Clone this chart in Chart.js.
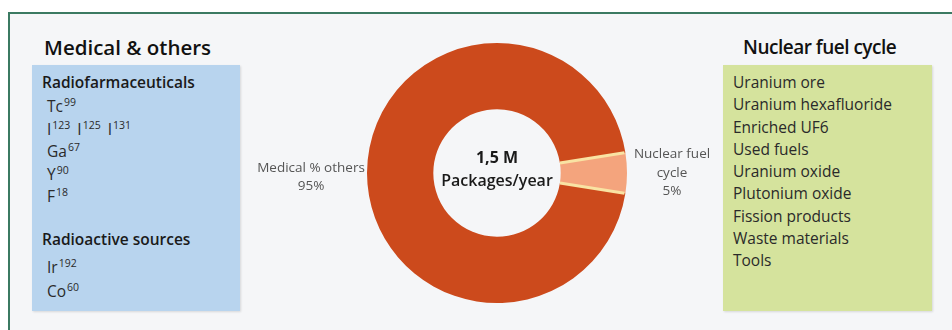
<!DOCTYPE html>
<html>
<head>
<meta charset="utf-8">
<script src="https://cdn.jsdelivr.net/npm/chart.js@4.4.0/dist/chart.umd.min.js"></script>
<style>
  html, body { margin:0; padding:0; background:#ffffff; }
  body { width:952px; height:330px; position:relative; overflow:hidden; font-family:"Open Sans", "Noto Sans", sans-serif; }
  #frame { position:absolute; left:8px; top:12px; width:944px; height:318px; border-top:2px solid #3b7a62; border-left:2px solid #3b7a62; background:#f5f6f8; box-sizing:border-box; }
  .box { position:absolute; top:65px; height:246px; box-shadow: 1px 1px 2px rgba(0,0,0,0.12); }
  #blue { left:32px; width:208px; background:#b8d4ee; }
  #green { left:723px; width:209px; background:#d5e39d; }
  .title { position:absolute; top:34px; font-size:20.5px; font-weight:600; color:#111; line-height:26px; white-space:nowrap; }
  .hdr { position:absolute; font-size:15.5px; font-weight:600; color:#1a1a1a; line-height:20px; white-space:nowrap; }
  .list { position:absolute; font-size:15.5px; color:#2a2a2a; white-space:nowrap; }
  .list div { height:22.5px; line-height:22.5px; }
  sup { font-size:10.5px; vertical-align:6px; line-height:0; margin-left:1px; }
  .gap { display:inline-block; width:7px; }
  canvas { position:absolute; left:0; top:0; }
</style>
</head>
<body>
<div id="frame"></div>
<div id="blue" class="box"></div>
<div id="green" class="box"></div>
<div id="t1" class="title" style="left:44px;"></div>
<div id="t2" class="title" style="left:743px; font-size:19px; letter-spacing:-0.5px;"></div>
<div id="hdr1" class="hdr" style="left:42px; top:72px;"></div>
<div id="list1" class="list" style="left:47px; top:95px;"></div>
<div id="hdr2" class="hdr" style="left:42px; top:229px;"></div>
<div id="list2" class="list" style="left:47px; top:255px;"></div>
<div id="list3" class="list" style="left:733px; top:71px;"></div>
<canvas id="c" width="952" height="330"></canvas>
<script>
// ---- data ----
const categories = ['Medical % others', 'Nuclear fuel cycle'];
const labelLines = [['Medical % others'], ['Nuclear fuel', 'cycle']];
const values = [95, 5];
const sliceColors = ['#cc4a1c', '#f4a47d'];
const centerLines = ['1,5 M', 'Packages/year'];
const medicalTitle = 'Medical & others';
const fuelTitle = 'Nuclear fuel cycle';
const pharmaHeader = 'Radiofarmaceuticals';
const pharmaItems = [['Tc','99'], ['I','123','I','125','I','131'], ['Ga','67'], ['Y','90'], ['F','18']];
const sourcesHeader = 'Radioactive sources';
const sourceItems = [['Ir','192'], ['Co','60']];
const fuelItems = ['Uranium ore', 'Uranium hexafluoride', 'Enriched UF6', 'Used fuels', 'Uranium oxide', 'Plutonium oxide', 'Fission products', 'Waste materials', 'Tools'];

// ---- side text (HTML) ----
function isoHtml(parts) {
  let h = '';
  for (let i = 0; i < parts.length; i += 2) {
    if (i > 0) h += '<span class="gap"></span>';
    h += parts[i] + '<sup>' + parts[i + 1] + '</sup>';
  }
  return h;
}
document.getElementById('t1').textContent = medicalTitle;
document.getElementById('t2').textContent = fuelTitle;
document.getElementById('hdr1').textContent = pharmaHeader;
document.getElementById('hdr2').textContent = sourcesHeader;
document.getElementById('list1').innerHTML = pharmaItems.map(p => '<div>' + isoHtml(p) + '</div>').join('');
document.getElementById('list2').innerHTML = sourceItems.map(p => '<div style="height:24px;line-height:24px">' + isoHtml(p) + '</div>').join('');
document.getElementById('list3').innerHTML = fuelItems.map(t => '<div style="height:22.3px;line-height:22.3px">' + t + '</div>').join('');

// ---- chart plugins ----
const decor = {
  id: 'decor',
  afterDatasetsDraw(chart) {
    const ctx = chart.ctx;
    const arcs = chart.getDatasetMeta(0).data;
    // separators around small slice
    const small = arcs[1];
    ctx.save();
    ctx.strokeStyle = '#f9e3a3';
    ctx.lineWidth = 3;
    [small.startAngle, small.endAngle].forEach(a => {
      ctx.beginPath();
      ctx.moveTo(small.x + Math.cos(a) * small.innerRadius, small.y + Math.sin(a) * small.innerRadius);
      ctx.lineTo(small.x + Math.cos(a) * (small.outerRadius - 1), small.y + Math.sin(a) * (small.outerRadius - 1));
      ctx.stroke();
    });
    // center text
    ctx.fillStyle = '#1a1a1a';
    ctx.font = '700 16px "Open Sans"';
    ctx.textAlign = 'center';
    ctx.textBaseline = 'middle';
    ctx.fillText(centerLines[0], small.x, small.y - 15);
    ctx.font = '600 16px "Open Sans"';
    ctx.fillText(centerLines[1], small.x, small.y + 8);
    // outside labels
    ctx.fillStyle = '#555555';
    ctx.font = '13.5px "Open Sans"';
    const total = values.reduce((a, b) => a + b, 0);
    arcs.forEach((arc, i) => {
      const mid = (arc.startAngle + arc.endAngle) / 2;
      const lines = labelLines[i].concat([Math.round(values[i] / total * 100) + '%']);
      const left = Math.cos(mid) < 0;
      const cx = arc.x + Math.cos(mid) * arc.outerRadius + (left ? -56 : 45);
      const lh = 18.5;
      const y0 = arc.y + Math.sin(mid) * arc.outerRadius - (lines.length - 1) * lh / 2 + (left ? 4 : 0);
      lines.forEach((t, k) => ctx.fillText(t, cx, y0 + k * lh));
    });
    ctx.restore();
  }
};

function sliceFill(context) {
  const chart = context.chart;
  const meta = chart.getDatasetMeta(0);
  const arc = meta.data[context.dataIndex];
  const base = sliceColors[context.dataIndex];
  if (!arc || !arc.outerRadius) return base;
  const g = chart.ctx.createRadialGradient(arc.x, arc.y, arc.innerRadius, arc.x, arc.y, arc.outerRadius);
  if (context.dataIndex === 0) {
    g.addColorStop(0, '#c2431a');
    g.addColorStop(0.06, '#cc4a1c');
    g.addColorStop(0.85, '#cd4b1c');
    g.addColorStop(0.93, '#dc5a2a');
    g.addColorStop(1, '#c4461b');
  } else {
    g.addColorStop(0, '#f09a72');
    g.addColorStop(0.5, '#f4a57f');
    g.addColorStop(1, '#f19c74');
  }
  return g;
}

new Chart(document.getElementById('c'), {
  type: 'doughnut',
  data: {
    labels: categories,
    datasets: [{ data: values, backgroundColor: sliceFill, borderWidth: 0 }]
  },
  options: {
    responsive: false,
    animation: false,
    rotation: 99,
    cutout: '49%',
    layout: { padding: { left: 367, right: 325, top: 43, bottom: 27 } },
    plugins: { legend: { display: false }, tooltip: { enabled: false } }
  },
  plugins: [decor]
});
</script>
</body>
</html>
